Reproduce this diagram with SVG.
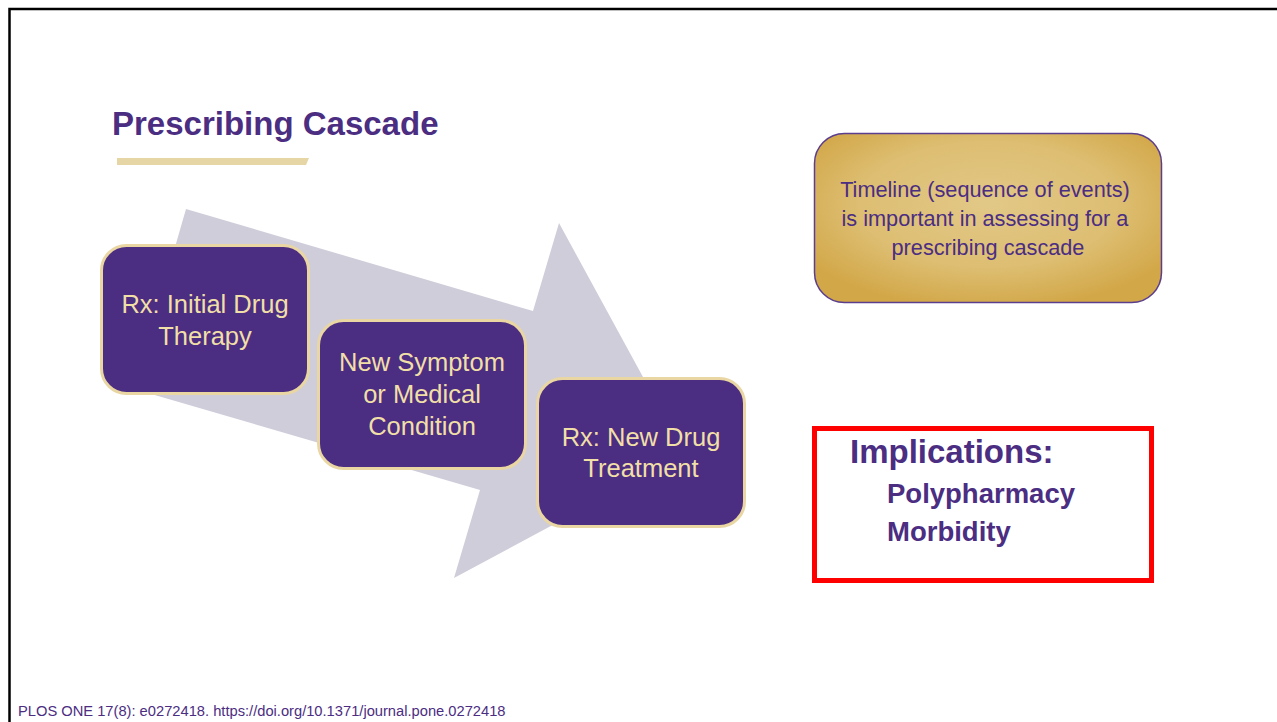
<svg xmlns="http://www.w3.org/2000/svg" width="1277" height="722" viewBox="0 0 1277 722">
  <style>
    .step rect { fill: #4B2D82; stroke: #E9D6A3; stroke-width: 3; }
    .step text { font-family: "Liberation Sans", Arial, sans-serif; font-size: 25.5px; fill: #F1DFA8; text-anchor: middle; }
    .purple { fill: #4B2D82; }
    .sans { font-family: "Liberation Sans", Arial, sans-serif; }
  </style>
  <defs>
    <radialGradient id="gold" cx="50%" cy="42%" r="62%">
      <stop offset="0" stop-color="#E2C887"/>
      <stop offset="0.6" stop-color="#DDBE72"/>
      <stop offset="1" stop-color="#D2A748"/>
    </radialGradient>
  </defs>
  <rect x="0" y="0" width="1277" height="722" fill="#FFFFFF"/>
  <path d="M 9.5 722 V 9 H 1277" fill="none" stroke="#000000" stroke-width="2.5"/>

  <g id="title">
    <text x="112" y="135" class="sans purple" font-size="33" font-weight="bold">Prescribing Cascade</text>
    <polygon points="117,158 309,158 306,165 117,165" fill="#E6D5A5"/>
  </g>

  <g id="connectors">
    <polygon id="cascade-arrow" points="186,209 533,311 559,223 685,454 454,578 480,490 134,389" fill="#D0CDDA"/>
  </g>

  <g id="step1" class="step">
    <rect x="101.5" y="245.5" width="207" height="148" rx="25"/>
    <text x="205" y="313">Rx: Initial Drug</text>
    <text x="205" y="345">Therapy</text>
  </g>
  <g id="step2" class="step">
    <rect x="318.5" y="320.5" width="207" height="148" rx="25"/>
    <text x="422" y="371">New Symptom</text>
    <text x="422" y="403">or Medical</text>
    <text x="422" y="435">Condition</text>
  </g>
  <g id="step3" class="step">
    <rect x="537.5" y="378.5" width="207" height="148" rx="25"/>
    <text x="641" y="446">Rx: New Drug</text>
    <text x="641" y="477">Treatment</text>
  </g>

  <g id="timeline">
    <rect x="814.5" y="133.5" width="347" height="169" rx="30" fill="url(#gold)" stroke="#5B3E8E" stroke-width="1.5"/>
    <text class="sans purple" font-size="21.7" text-anchor="middle">
      <tspan x="988" y="197">Timeline (sequence of events)</tspan>
      <tspan x="988" y="226">is important in assessing for a</tspan>
      <tspan x="988" y="255">prescribing cascade</tspan>
    </text>
  </g>

  <g id="implications">
    <rect x="814.5" y="428.5" width="337" height="152" fill="none" stroke="#FF0000" stroke-width="5"/>
    <text x="850" y="463" class="sans purple" font-size="33" font-weight="bold">Implications:</text>
    <text x="887" y="503" class="sans purple" font-size="27.5" font-weight="bold">Polypharmacy</text>
    <text x="887" y="541" class="sans purple" font-size="27.5" font-weight="bold">Morbidity</text>
  </g>

  <g id="footer">
    <text x="18" y="716" class="sans purple" font-size="14.7">PLOS ONE 17(8): e0272418. https://doi.org/10.1371/journal.pone.0272418</text>
  </g>
</svg>
